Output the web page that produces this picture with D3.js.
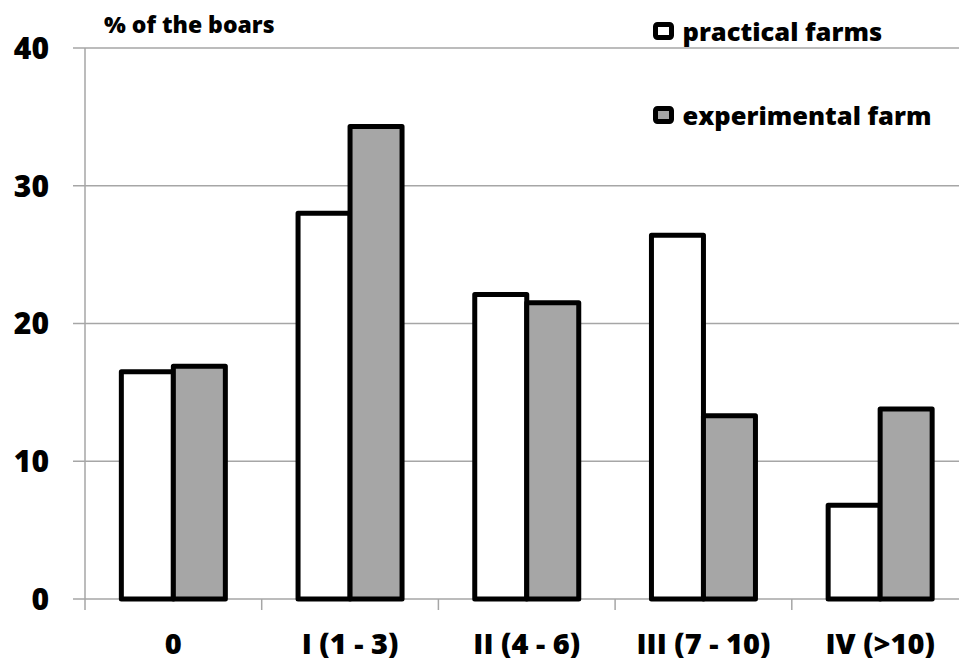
<!DOCTYPE html>
<html>
<head>
<meta charset="utf-8">
<script src="https://cdn.jsdelivr.net/npm/d3@7"></script>
<style>
body { margin: 0; background: #fff; }
svg { display: block; font-family: 'Open Sans', sans-serif; font-weight: 700; }
</style>
</head>
<body>
<svg id="chart" width="959" height="664"></svg>
<script>
var categories = ['0', 'I (1 - 3)', 'II (4 - 6)', 'III (7 - 10)', 'IV (>10)'];
var seriesNames = ['practical farms', 'experimental farm'];
var practical = [16.5, 28.0, 22.1, 26.4, 6.8];
var experimental = [16.9, 34.3, 21.5, 13.3, 13.8];
var yTicks = [0, 10, 20, 30, 40];
var fills = ['#ffffff', '#a6a6a6'];

var svg = d3.select('#chart'),
	margin = { top: 48, left: 85 },
	bandW = 176.7,
	width = bandW * categories.length,
	height = 599 - margin.top;

var x = d3.scaleBand().domain(categories).range([ 0, width ]);
var xs = d3.scaleBand().domain(seriesNames).range([ 0, 104 ]);
var y = d3.scaleLinear().domain([ 0, 40 ]).range([ height, 0 ]);

var g = svg.append('g').attr('transform', 'translate(' + margin.left + ',' + margin.top + ')');

// gridlines
g.selectAll('.grid')
	.data(yTicks)
	.enter()
	.append('line')
	.attr('x1', -12)
	.attr('x2', width)
	.attr('y1', function(d) { return y(d); })
	.attr('y2', function(d) { return y(d); })
	.attr('stroke', '#a6a6a6')
	.attr('stroke-width', 1.5);

// y axis line
g.append('line').attr('x1', 0).attr('x2', 0).attr('y1', 0).attr('y2', height + 11)
	.attr('stroke', '#a6a6a6').attr('stroke-width', 1.5);

// x ticks
g.selectAll('.xtick')
	.data(categories.slice(1))
	.enter()
	.append('line')
	.attr('x1', function(d) { return x(d); })
	.attr('x2', function(d) { return x(d); })
	.attr('y1', height)
	.attr('y2', height + 11)
	.attr('stroke', '#a6a6a6')
	.attr('stroke-width', 1.5);

// y labels
g.selectAll('.ylab')
	.data(yTicks)
	.enter()
	.append('text')
	.attr('x', -36)
	.attr('y', function(d) { return y(d); })
	.attr('dy', '0.36em')
	.attr('text-anchor', 'end')
	.style('font-size', '30px')
	.style('font-weight', 800)
	.text(function(d) { return d; });

// x labels
g.selectAll('.xlab')
	.data(categories)
	.enter()
	.append('text')
	.attr('x', function(d) { return x(d) + x.bandwidth() / 2; })
	.attr('y', height + 55)
	.attr('text-anchor', 'middle')
	.style('font-size', '29px')
	.style('font-weight', 800)
	.text(function(d) { return d; });

var series = [practical, experimental];
series.forEach(function(vals, si) {
	g.selectAll('.bar' + si)
		.data(vals)
		.enter()
		.append('rect')
		.attr('x', function(d, i) { return x(categories[i]) + x.bandwidth() / 2 - 52 + xs(seriesNames[si]); })
		.attr('width', xs.bandwidth())
		.attr('y', function(d) { return y(d); })
		.attr('height', function(d) { return y(0) - y(d); })
		.attr('fill', fills[si])
		.attr('stroke', '#000')
		.attr('stroke-width', 5)
		.attr('stroke-linejoin', 'round');
});

// title
svg.append('text').attr('x', 104).attr('y', 33).style('font-size', '23px').style('font-weight', 800)
	.text('% of the boars');

// legend
var leg = svg.selectAll('.leg')
	.data(seriesNames)
	.enter()
	.append('g')
	.attr('transform', function(d, i) { return 'translate(655.5,' + (24.5 + i * 84) + ')'; });
leg.append('rect').attr('width', 16).attr('height', 13)
	.attr('fill', function(d, i) { return fills[i]; })
	.attr('stroke', '#000').attr('stroke-width', 5).attr('rx', 2);
leg.append('text').attr('x', 27).attr('y', 7).attr('dy', '0.36em')
	.style('font-size', '25.5px').style('font-weight', 800).text(function(d) { return d; });
</script>
</body>
</html>
